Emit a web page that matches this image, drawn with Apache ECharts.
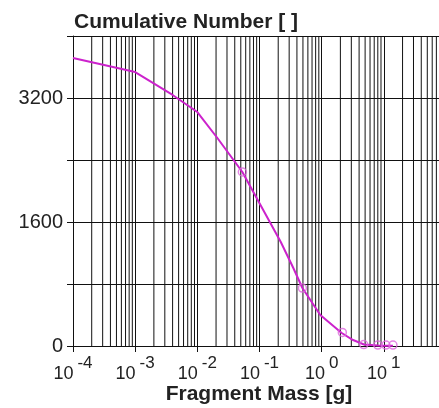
<!DOCTYPE html>
<html>
<head>
<meta charset="utf-8">
<script src="https://cdn.jsdelivr.net/npm/echarts@6/dist/echarts.min.js"></script>
<style>
  html, body { margin: 0; padding: 0; background: #fff; }
  #chart { width: 439px; height: 408px; }
</style>
</head>
<body>
<div id="chart"></div>
<script>
// fitted curve (mass in g, cumulative number)
const fitMass = [1e-4, 1e-3, 4e-3, 1e-2, 2.1e-2, 5.3e-2, 0.22, 0.35, 0.49, 0.95, 2.1, 3.2, 4.8, 8.0, 10.8, 14.0];
const fitCount = [3716, 3535, 3239, 3019, 2684, 2245, 1342, 1006, 748, 400, 168, 77, 20, 8, 4, 2];

// measured points
const ptMass = [0.053, 0.49, 2.15, 4.75, 8.0, 10.8, 14.0];
const ptCount = [2245, 748, 175, 18, 12, 12, 12];

const yTicks = [0, 1600, 3200];
const decades = [1e-4, 1e-3, 1e-2, 1e-1, 1, 10];

// minor vertical grid lines at 2..9 in every decade
const minorValues = [];
decades.forEach(d => {
  for (let k = 2; k <= 9; k++) minorValues.push(d * k);
});

const font = 'Liberation Sans, Arial, sans-serif';
const chart = echarts.init(document.getElementById('chart'));

const gridSeries = minorValues.map(v => ({
  type: 'line',
  data: [[v, 0], [v, 4000]],
  silent: true,
  showSymbol: false,
  lineStyle: { color: '#111', width: 1 },
  emphasis: { disabled: true },
  z: 1
}));

chart.setOption({
  animation: false,
  backgroundColor: '#fff',
  title: {
    text: 'Cumulative Number [ ]',
    left: 69,
    top: 7,
    textStyle: { fontFamily: font, fontSize: 21, fontWeight: 'bold', color: '#222' }
  },
  // x axis title
  graphic: [{
    type: 'text',
    x: 259,
    y: 394,
    style: {
      text: 'Fragment Mass [g]',
      fontFamily: font,
      fontSize: 21,
      fontWeight: 'bold',
      fill: '#222',
      textAlign: 'center',
      textVerticalAlign: 'middle'
    }
  }],
  grid: { left: 73, top: 36, right: -7, bottom: 62, containLabel: false, outerBoundsMode: 'none' },
  xAxis: {
    type: 'log',
    logBase: 10,
    min: 1e-4,
    max: 100,
    axisLine: { lineStyle: { color: '#111', width: 1 } },
    axisTick: { show: true, inside: false, length: 6, lineStyle: { color: '#111' } },
    splitLine: { show: true, lineStyle: { color: '#111', width: 1 } },
    axisLabel: {
      margin: 9,
      formatter: v => {
        const e = Math.round(Math.log10(v));
        if (e >= 2) return '';
        return '{b|10}{s|' + e + '}';
      },
      rich: {
        b: { fontFamily: font, fontSize: 18, color: '#222' },
        s: { fontFamily: font, fontSize: 17, color: '#222', padding: [0, 0, 22, 4] }
      }
    }
  },
  yAxis: {
    type: 'value',
    min: 0,
    max: 4000,
    interval: 800,
    axisLine: { show: true, lineStyle: { color: '#111', width: 1 } },
    axisTick: { show: true, length: 6, lineStyle: { color: '#111' } },
    splitLine: { show: true, lineStyle: { color: '#111', width: 1 } },
    axisLabel: {
      margin: 10,
      fontFamily: font,
      fontSize: 20,
      color: '#222',
      formatter: v => (yTicks.includes(v) ? String(v) : '')
    }
  },
  series: gridSeries.concat([
    {
      type: 'line',
      data: fitMass.map((m, i) => [m, fitCount[i]]),
      showSymbol: false,
      lineStyle: { color: '#cc22cc', width: 2 },
      z: 3
    },
    {
      type: 'scatter',
      data: ptMass.map((m, i) => [m, ptCount[i]]),
      symbol: 'circle',
      symbolSize: 8,
      itemStyle: { color: 'rgba(0,0,0,0)', borderColor: '#dd66dd', borderWidth: 1.5 },
      z: 4
    }
  ])
});
</script>
</body>
</html>
